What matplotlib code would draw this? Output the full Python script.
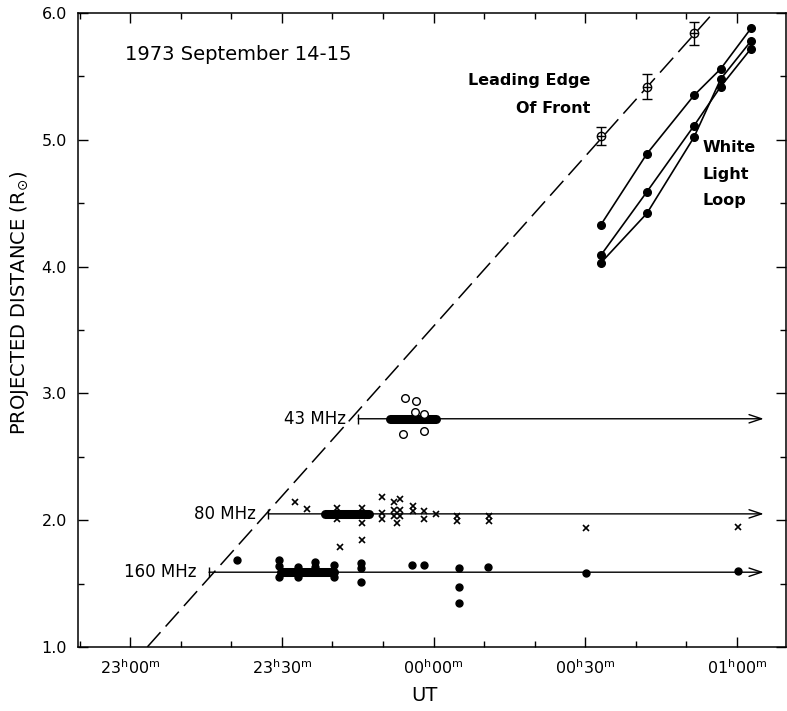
import numpy as np
import matplotlib
matplotlib.use('Agg')
from matplotlib import pyplot as plt
from matplotlib.ticker import MultipleLocator, FixedLocator

# time axis in minutes after 23h00m UT
tick_minutes = [0, 30, 60, 90, 120]
tick_labels = [r'$23^{\rm h}00^{\rm m}$', r'$23^{\rm h}30^{\rm m}$', r'$00^{\rm h}00^{\rm m}$',
               r'$00^{\rm h}30^{\rm m}$', r'$01^{\rm h}00^{\rm m}$']

# leading edge of front (white light)
front_t = [93.1, 102.2, 111.5]
front_r = [5.03, 5.42, 5.84]
front_err = [0.07, 0.10, 0.09]
# straight-line fit through the front
fit_t = [3.4, 115.3]
fit_r = [1.0, 6.0]

# white light loop, three tracks
loop_t = [93.1, 102.2, 111.5, 116.8, 122.8]
loop_a = [4.33, 4.89, 5.35, 5.56, 5.88]
loop_b = [4.09, 4.59, 5.11, 5.42, 5.72]
loop_c = [4.03, 4.42, 5.02, 5.48, 5.78]

# radio heliograph frequencies
freq_labels = ['43 MHz', '80 MHz', '160 MHz']
freq_levels = [2.80, 2.05, 1.59]
freq_start = [45.1, 27.3, 15.6]
freq_end = [125.3, 125.3, 125.3]
burst_start = [51.3, 38.5, 29.8]
burst_end = [60.4, 47.3, 40.4]

# 43 MHz positions (open circles)
pos43_t = [54.3, 56.6, 56.4, 58.2, 53.9, 58.1]
pos43_r = [2.96, 2.94, 2.85, 2.84, 2.68, 2.70]

# 80 MHz positions (crosses)
pos80_t = [32.7, 34.9, 41.0, 41.0, 45.9, 45.9, 41.6, 45.9, 49.9, 49.9, 49.9, 52.1, 53.3, 52.1,
           53.3, 52.1, 53.3, 52.7, 56.0, 56.0, 58.2, 58.2, 60.4, 64.7, 64.7, 70.9, 70.9, 90.1, 120.2]
pos80_r = [2.14, 2.09, 2.10, 2.01, 2.10, 1.98, 1.79, 1.84, 2.18, 2.06, 2.01, 2.14, 2.17, 2.08,
           2.08, 2.03, 2.03, 1.98, 2.11, 2.07, 2.07, 2.01, 2.05, 2.03, 1.99, 2.03, 1.99, 1.94, 1.95]

# 160 MHz positions (dots)
pos160_t = [21.2, 29.5, 29.5, 29.5, 33.3, 33.3, 36.6, 36.6, 40.4, 40.4, 45.7, 45.7, 45.7,
            55.8, 58.2, 65.0, 65.0, 65.0, 70.7, 90.1, 120.2]
pos160_r = [1.69, 1.64, 1.69, 1.55, 1.63, 1.55, 1.67, 1.63, 1.65, 1.55, 1.66, 1.62, 1.51,
            1.65, 1.65, 1.62, 1.47, 1.35, 1.63, 1.58, 1.60]

plt.rcParams['font.family'] = 'DejaVu Sans'

fig = plt.figure(figsize=(7.87, 7.11), dpi=100)
ax = fig.add_axes([0.0991, 0.090, 0.8996, 0.8917])
ax.set_xlim(-10.3, 129.7)
ax.set_ylim(1.0, 6.0)

# front fit and leading edge points
ax.plot(fit_t, fit_r, color='black', lw=1.1, dashes=(13, 5))
ax.errorbar(front_t, front_r, yerr=front_err, fmt='none', ecolor='black', elinewidth=1.0,
            capsize=3.5, capthick=1.0)
ax.plot(front_t, front_r, 'o', ms=6, mfc='white', mec='black', mew=1.0)
ax.plot(front_t, front_r, '+', ms=6, color='black', mew=1.0)

# white light loop
for track in [loop_a, loop_b, loop_c]:
    ax.plot(loop_t, track, '-o', color='black', lw=1.2, ms=5.5)

# radio tracks
for lab, lev, t0, t1, b0, b1 in zip(freq_labels, freq_levels, freq_start, freq_end,
                                     burst_start, burst_end):
    ax.annotate('', xy=(t1, lev), xytext=(t0, lev),
                arrowprops=dict(arrowstyle='->,head_width=0.3,head_length=0.9',
                                lw=1.0, color='black', shrinkA=0, shrinkB=0))
    ax.plot([t0], [lev], '|', color='black', ms=7, mew=1.0)
    ax.plot([b0, b1], [lev, lev], color='black', lw=6.5, solid_capstyle='round')
    ax.text(t0 - 2.5, lev, lab, ha='right', va='center', fontsize=12)

ax.plot(pos43_t, pos43_r, 'o', ms=5.5, mfc='white', mec='black', mew=1.0, ls='none')
ax.plot(pos80_t, pos80_r, 'x', ms=5, color='black', mew=1.2, ls='none')
ax.plot(pos160_t, pos160_r, 'o', ms=5, color='black', ls='none')

# annotations
ax.text(-1.0, 5.67, '1973 September 14-15', fontsize=14, ha='left', va='center')
ax.text(91, 5.47, 'Leading Edge', fontsize=11.5, fontweight='bold', ha='right', va='center')
ax.text(91, 5.25, 'Of Front', fontsize=11.5, fontweight='bold', ha='right', va='center')
ax.text(113.1, 4.94, 'White', fontsize=11.5, fontweight='bold', ha='left', va='center')
ax.text(113.1, 4.73, 'Light', fontsize=11.5, fontweight='bold', ha='left', va='center')
ax.text(113.1, 4.52, 'Loop', fontsize=11.5, fontweight='bold', ha='left', va='center')

# axes, ticks on all four sides pointing inward
ax.xaxis.set_major_locator(FixedLocator(tick_minutes))
ax.set_xticklabels(tick_labels)
ax.xaxis.set_minor_locator(MultipleLocator(10))
ax.yaxis.set_major_locator(MultipleLocator(1.0))
ax.yaxis.set_minor_locator(MultipleLocator(0.5))
ax.yaxis.set_major_formatter(plt.FormatStrFormatter('%.1f'))
ax.tick_params(which='both', direction='in', top=True, right=True, labelsize=11.5, width=1.0)
ax.tick_params(which='major', length=7, pad=8)
ax.tick_params(which='minor', length=4.5)
for sp in ax.spines.values():
    sp.set_linewidth(1.1)

ax.set_xlabel('UT', fontsize=14)
ax.xaxis.set_label_coords(0.49, -0.062)
ax.set_ylabel(r'PROJECTED DISTANCE (R$_{\odot}$)', fontsize=14)
ax.yaxis.set_label_coords(-0.066, 0.543)

fig.savefig('out.png', dpi=100)
